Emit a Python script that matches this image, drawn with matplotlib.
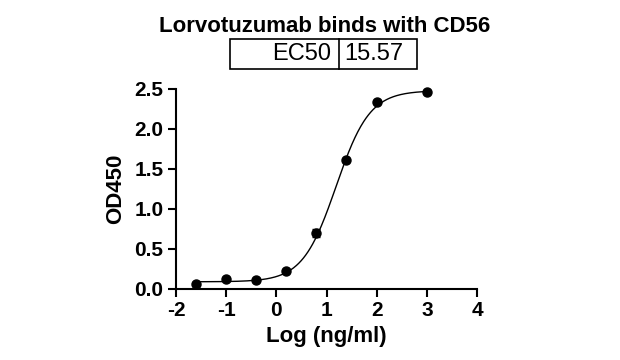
import numpy as np
import matplotlib
matplotlib.use("Agg")
import matplotlib.pyplot as plt
from matplotlib.patches import Rectangle
from matplotlib.lines import Line2D

plt.rcParams['font.family'] = ['Liberation Sans', 'DejaVu Sans']

log_conc = [-1.61, -1.01, -0.408, 0.194, 0.796, 1.398, 2.0, 3.0]
od450 = [0.062, 0.124, 0.112, 0.224, 0.70, 1.61, 2.34, 2.46]
od_err = [0.0, 0.0, 0.0, 0.0, 0.05, 0.0, 0.0, 0.0]

# 4PL fit parameters
bottom, top, log_ec50, hill = 0.09, 2.48, np.log10(15.57), 1.3
ec50_text = "15.57"

x_ticks = [-2, -1, 0, 1, 2, 3, 4]
y_ticks = [0.0, 0.5, 1.0, 1.5, 2.0, 2.5]

W, H = 620, 360
fig = plt.figure(figsize=(W / 100, H / 100), dpi=100)
ax = fig.add_axes([176 / W, 1 - 289 / H, 301 / W, 200 / H])

xs = np.linspace(min(log_conc), max(log_conc), 400)
ys = bottom + (top - bottom) / (1 + 10 ** ((log_ec50 - xs) * hill))
ax.plot(xs, ys, color='black', lw=1.0, clip_on=False)
ax.errorbar(log_conc, od450, yerr=od_err, fmt='o', color='black', ms=6.5,
            capsize=3, elinewidth=1, capthick=1, clip_on=False, zorder=3)

ax.set_xlim(-2, 4)
ax.set_ylim(0, 2.5)
ax.set_xticks(x_ticks)
ax.set_xticklabels([str(t) for t in x_ticks])
ax.set_yticks(y_ticks)
ax.set_yticklabels([f"{t:.1f}" for t in y_ticks])
for s in ['top', 'right']:
    ax.spines[s].set_visible(False)
for s in ['left', 'bottom']:
    ax.spines[s].set_linewidth(1.5)
ax.tick_params(axis='both', width=1.5, length=6, labelsize=15, pad=3)
for lab in ax.get_xticklabels() + ax.get_yticklabels():
    lab.set_fontweight('bold')
ax.set_xlabel("Log (ng/ml)", fontsize=16, fontweight='bold', labelpad=4)
ax.set_ylabel("OD450", fontsize=16, fontweight='bold', labelpad=6)

fig.text(325 / W, 1 - 26 / H, "Lorvotuzumab binds with CD56", ha='center', va='center',
         fontsize=16, fontweight='bold')

# EC50 table
x0, x1, x2 = 230 / W, 339 / W, 417 / W
y0, y1 = 1 - 69 / H, 1 - 39 / H
fig.add_artist(Rectangle((x0, y0), x2 - x0, y1 - y0, transform=fig.transFigure,
                         fill=False, ec='black', lw=1.2))
fig.add_artist(Line2D([x1, x1], [y0, y1], transform=fig.transFigure, color='black', lw=1.2))
fig.text(331 / W, (y0 + y1) / 2, "EC50", ha='right', va='center', fontsize=17)
fig.text(344 / W, (y0 + y1) / 2, ec50_text, ha='left', va='center', fontsize=17)

fig.savefig("out.png", dpi=100)
